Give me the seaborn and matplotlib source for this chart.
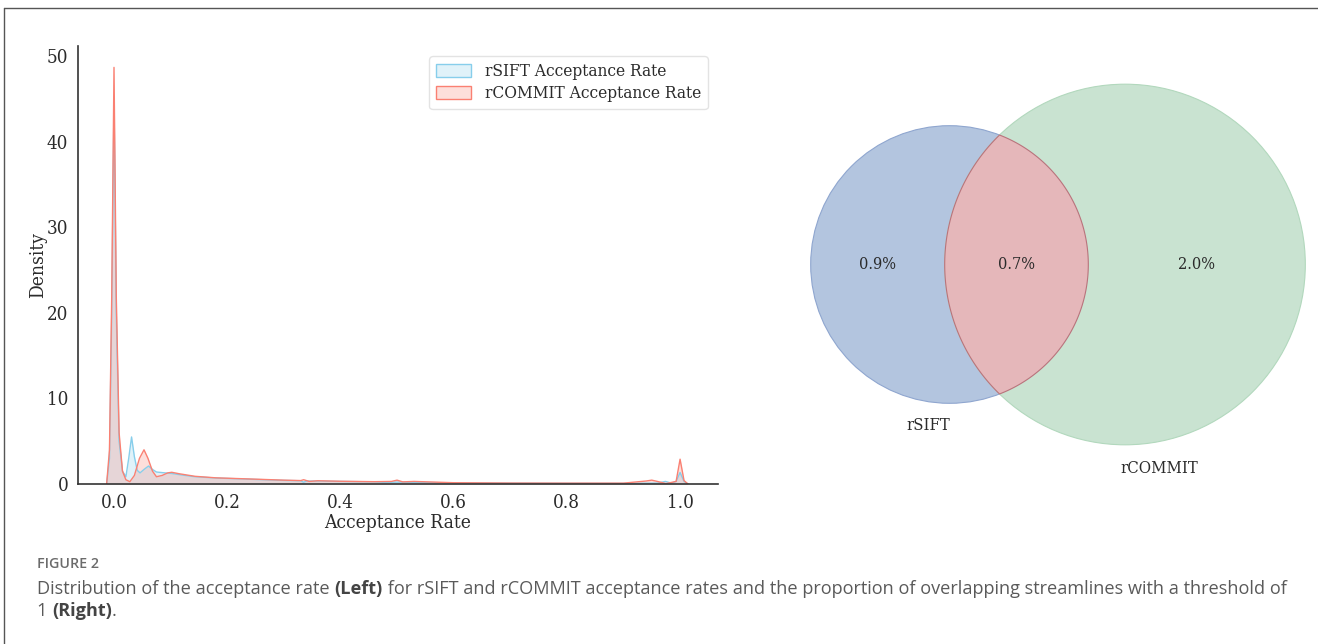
import numpy as np
import pandas as pd
import matplotlib
matplotlib.use("Agg")
import matplotlib.pyplot as plt
import seaborn as sns
from matplotlib.patches import Patch, Circle, Polygon
from matplotlib.lines import Line2D

# ---- density curves of the acceptance rate (x, density) ----
sift_x = [-0.013, -0.008, -0.004, 0.0, 0.004, 0.009, 0.015, 0.021, 0.026, 0.031,
          0.036, 0.041, 0.046, 0.053, 0.061, 0.068, 0.075, 0.09, 0.10, 0.12,
          0.143, 0.18, 0.243, 0.30, 0.33, 0.335, 0.34, 0.36, 0.40, 0.46,
          0.48, 0.50, 0.52, 0.60, 0.70, 0.80, 0.90, 0.96, 0.974, 0.985,
          0.993, 1.0, 1.007, 1.014]
sift_y = [0.0, 3.0, 20.0, 45.0, 20.0, 5.0, 1.5, 0.85, 3.0, 5.5,
          3.2, 1.6, 1.3, 1.7, 2.1, 1.7, 1.4, 1.3, 1.25, 1.05,
          0.85, 0.7, 0.55, 0.42, 0.38, 0.2, 0.35, 0.35, 0.3, 0.25,
          0.18, 0.22, 0.2, 0.13, 0.1, 0.08, 0.07, 0.1, 0.3, 0.1,
          0.3, 1.35, 0.3, 0.0]

commit_x = [-0.013, -0.008, -0.004, 0.0, 0.004, 0.009, 0.015, 0.021, 0.028, 0.036,
            0.045, 0.053, 0.060, 0.068, 0.075, 0.085, 0.095, 0.102, 0.115, 0.143,
            0.18, 0.243, 0.30, 0.33, 0.335, 0.345, 0.36, 0.40, 0.46, 0.49,
            0.50, 0.51, 0.53, 0.60, 0.70, 0.80, 0.90, 0.94, 0.95, 0.96,
            0.975, 0.993, 1.0, 1.007, 1.014]
commit_y = [0.0, 4.0, 22.0, 48.7, 22.0, 6.0, 1.5, 0.5, 0.27, 1.0,
            3.0, 4.0, 3.0, 1.5, 0.85, 1.0, 1.3, 1.37, 1.2, 0.9,
            0.72, 0.58, 0.45, 0.4, 0.5, 0.3, 0.38, 0.32, 0.27, 0.3,
            0.45, 0.25, 0.3, 0.15, 0.11, 0.1, 0.1, 0.35, 0.45, 0.3,
            0.05, 0.3, 2.9, 0.4, 0.0]

series_names = ["rSIFT Acceptance Rate", "rCOMMIT Acceptance Rate"]
series_colors = ["skyblue", "salmon"]

# ---- streamline overlap (percent of streamlines) ----
venn_sets = ["rSIFT", "rCOMMIT"]
only_sift = 0.9
both = 0.7
only_commit = 2.0

caption_title = "FIGURE 2"
caption_parts = [
    ("Distribution of the acceptance rate ", "normal"),
    ("(Left)", "bold"),
    (" for rSIFT and rCOMMIT acceptance rates and the proportion of overlapping streamlines with a threshold of", "normal"),
    ("\n", None),
    ("1 ", "normal"),
    ("(Right)", "bold"),
    (".", "normal"),
]

sns.set_theme(style="white")
serif = {"family": "DejaVu Serif", "stretch": "condensed"}
TXT = "#2b2b2b"

W, H = 1318, 644
fig = plt.figure(figsize=(W / 100, H / 100), dpi=100)

def px_box(x0, y0, x1, y1):
    return [x0 / W, 1 - y1 / H, (x1 - x0) / W, (y1 - y0) / H]

# ---------------- left: density plot ----------------
ax = fig.add_axes(px_box(78, 46, 718, 484))
frames = [pd.DataFrame({"x": sift_x, "density": sift_y}),
          pd.DataFrame({"x": commit_x, "density": commit_y})]
for df, col in zip(frames, series_colors):
    ax.fill_between(df["x"], 0, df["density"], color=col, alpha=0.25, lw=0)
    sns.lineplot(data=df, x="x", y="density", ax=ax, color=col, lw=1.0,
                 estimator=None, sort=False)

ax.set_xlim(-0.0636, 1.067)
ax.set_ylim(0, 51.2)
ax.set_xticks([0.0, 0.2, 0.4, 0.6, 0.8, 1.0])
ax.set_xticklabels(["0.0", "0.2", "0.4", "0.6", "0.8", "1.0"])
ax.set_yticks([0, 10, 20, 30, 40, 50])
ax.set_yticklabels(["0", "10", "20", "30", "40", "50"])
for lab in ax.get_xticklabels() + ax.get_yticklabels():
    lab.set_fontfamily(serif["family"])
    lab.set_fontstretch(serif["stretch"])
    lab.set_fontsize(13.5)
    lab.set_color(TXT)
ax.tick_params(axis="both", length=0, pad=7)
ax.set_xlabel("Acceptance Rate", fontsize=13.8, color=TXT, labelpad=2, **serif)
ax.set_ylabel("Density", fontsize=13.8, color=TXT, labelpad=0, **serif)
sns.despine(ax=ax)
for s in ["left", "bottom"]:
    ax.spines[s].set_color("#333333")
    ax.spines[s].set_linewidth(1.2)

handles = [Patch(facecolor=matplotlib.colors.to_rgba(c, 0.25), edgecolor=c, lw=1.0)
           for c in series_colors]
leg = ax.legend(handles, series_names, loc="upper right", bbox_to_anchor=(1.0, 1.0),
                prop={"family": serif["family"], "stretch": serif["stretch"], "size": 12.4},
                frameon=True, handlelength=2.0, handleheight=0.8, borderpad=0.4,
                labelspacing=0.3, borderaxespad=0.6)
leg.get_frame().set_edgecolor("#dddddd")
for t in leg.get_texts():
    t.set_color(TXT)

# ---------------- right: two-set area-proportional diagram ----------------
vx = fig.add_axes(px_box(790, 60, 1318, 500))
vx.set_axis_off()
unit = 194.5  # pixels per data unit
vx.set_xlim(-(949.5 - 790) / unit, (1318 - 949.5) / unit)
vx.set_ylim(-(500 - 264.5) / unit, (264.5 - 60) / unit)

area_a = only_sift + both
area_b = only_commit + both
ra = np.sqrt(area_a / np.pi)
rb = np.sqrt(area_b / np.pi)

def lens_area(d, r1, r2):
    if d >= r1 + r2:
        return 0.0
    if d <= abs(r1 - r2):
        return np.pi * min(r1, r2) ** 2
    a1 = r1 ** 2 * np.arccos((d ** 2 + r1 ** 2 - r2 ** 2) / (2 * d * r1))
    a2 = r2 ** 2 * np.arccos((d ** 2 + r2 ** 2 - r1 ** 2) / (2 * d * r2))
    a3 = 0.5 * np.sqrt((-d + r1 + r2) * (d + r1 - r2) * (d - r1 + r2) * (d + r1 + r2))
    return a1 + a2 - a3

lo, hi = abs(ra - rb), ra + rb
for _ in range(80):
    mid = 0.5 * (lo + hi)
    if lens_area(mid, ra, rb) > both:
        lo = mid
    else:
        hi = mid
dist = 0.5 * (lo + hi)

ca = (0.0, 0.0)
cb = (dist, 0.0)
vx.add_patch(Circle(ca, ra, facecolor="#b3c5df", edgecolor="#8fa6cf", lw=0.8, zorder=1))
vx.add_patch(Circle(cb, rb, facecolor="#c9e3d1", edgecolor="#b2d8bd", lw=0.8, zorder=2))

x0 = (dist ** 2 + ra ** 2 - rb ** 2) / (2 * dist)
y0 = np.sqrt(ra ** 2 - x0 ** 2)
ta = np.arctan2(y0, x0)
tb = np.arctan2(y0, dist - x0)
arc_a = np.linspace(-ta, ta, 200)
arc_b = np.linspace(np.pi - tb, np.pi + tb, 200)
lens = np.vstack([np.column_stack([ra * np.cos(arc_a), ra * np.sin(arc_a)]),
                  np.column_stack([dist + rb * np.cos(arc_b), rb * np.sin(arc_b)])])
vx.add_patch(Polygon(lens, closed=True, facecolor="#e5b7ba", edgecolor="#b9737c",
                     lw=0.8, zorder=3))

pos_a = 0.5 * (-ra + (dist - rb))
pos_ab = 0.5 * ((dist - rb) + ra)
pos_b = 0.5 * (ra + dist + rb)
for xp, val in [(pos_a, only_sift), (pos_ab, both), (pos_b, only_commit)]:
    vx.text(xp, 0.0, f"{val:.1f}%", ha="center", va="center", fontsize=11.7,
            color=TXT, zorder=5, **serif)
vx.text(-0.155 * ra, -1.16 * ra, venn_sets[0], ha="center", va="center",
        fontsize=12, color=TXT, **serif)
vx.text(dist + 0.19 * rb, -1.13 * rb, venn_sets[1], ha="center", va="center",
        fontsize=12, color=TXT, **serif)

# ---------------- frame and caption ----------------
fig.add_artist(Line2D([4 / W, 1], [1 - 8 / H, 1 - 8 / H], color="#555555", lw=1.0))
fig.add_artist(Line2D([4 / W, 4 / W], [0, 1 - 8 / H], color="#555555", lw=1.0))

cap_font = "Open Sans"
fig.text(37 / W, 1 - 564 / H, caption_title, fontsize=10.3, color="#6b6b6b",
         fontfamily=cap_font, fontweight="semibold", va="center")

renderer = fig.canvas.get_renderer()
xcur, ycur = 37.0, 589.0
for text, weight in caption_parts:
    if weight is None:
        xcur, ycur = 37.0, ycur + 22.0
        continue
    t = fig.text(xcur / W, 1 - ycur / H, text, fontsize=13.1, fontfamily=cap_font,
                 fontweight=weight, color="#5a5a5a" if weight == "normal" else "#444444",
                 va="center")
    xcur += t.get_window_extent(renderer).width

fig.savefig("out.png", dpi=100, facecolor="white")
